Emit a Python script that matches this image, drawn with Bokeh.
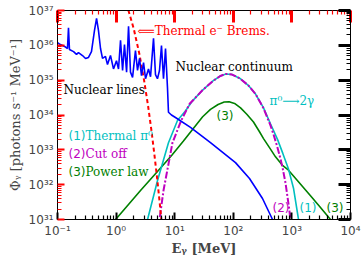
from bokeh.plotting import figure
from bokeh.models import Label, LogAxis, FixedTicker, CustomJSTickFormatter, Range1d
from bokeh.embed import file_html
from bokeh.resources import INLINE

# ---- data ----
nuc_E = [0.100, 0.112, 0.132, 0.148, 0.154, 0.160, 0.188, 0.211, 0.228, 0.267,
         0.301, 0.338, 0.380, 0.428, 0.464, 0.50, 0.542, 0.586, 0.659, 0.713,
         0.802, 0.903, 1.015, 1.10, 1.19, 1.29, 1.39, 1.51, 1.63, 1.76,
         1.91, 2.14, 2.32, 2.51, 2.71, 2.94, 3.18, 3.57, 3.87, 4.35,
         4.70, 5.08, 5.50, 5.95, 6.44, 6.97, 7.54, 7.83, 8.8, 10.3,
         18.6, 40.8, 109, 189, 315, 467]
nuc_phi = [1.2e36, 1.05e36, 9.3e35, 8.1e35, 3.2e36, 7.6e35, 6.6e35, 5.5e35, 6.2e35, 5.1e35,
           4.2e35, 4.5e35, 6.6e35, 2.7e36, 5.9e36, 2.7e36, 8.1e35, 4.2e35, 4.8e35, 2.8e35,
           5.1e35, 2.1e35, 3.6e35, 2.1e35, 1.4e36, 1.9e35, 1.05e36, 1.7e35, 3.5e36, 1.7e35,
           1.2e35, 7.1e35, 1.9e35, 4.2e35, 1.35e35, 3.2e35, 1.1e35, 2.1e35, 1.26e35, 1.6e36,
           1.45e35, 1.1e35, 1.9e35, 9.8e35, 1.1e35, 8.1e35, 5.8e34, 1.2e34, 1.0e34, 8.5e33,
           4.4e33, 1.6e33, 4.3e32, 1.5e32, 4.0e31, 1.0e31]
brems_E = [1.5, 2.0, 2.5, 3.0, 3.5, 4.0, 4.5, 5.0, 5.5, 6.0]
brems_phi = [1.6e37, 3.0e36, 5.6e35, 1.0e35, 1.9e34, 3.7e33, 7.4e32, 1.6e32, 3.5e31, 7.9e30]
therm_E = [3.3, 3.44, 5.08, 7.83, 11.2, 15, 20, 30, 45, 60, 75, 95, 130, 180, 240,
           328, 431, 568, 700, 875, 1065, 1297, 1350]
therm_phi = [5.0e30, 1.0e31, 1.3e32, 1.6e33, 7.1e33, 1.26e34, 2.5e34, 5.2e34, 9.5e34, 1.32e35,
             1.51e35, 1.45e35, 1.12e35, 7.1e34, 4.0e34, 1.6e34, 5.6e33, 2.0e33, 7.9e32,
             2.8e32, 7.9e31, 1.0e31, 5.0e30]
cut_E = [5.3, 5.5, 6.44, 9.16, 13.0, 18, 30, 45, 60, 75, 95, 130, 180, 240, 328, 431,
         485, 560, 638, 700, 778, 875, 946, 970]
cut_phi = [5.0e30, 1.0e31, 6.8e31, 1.6e33, 7.1e33, 2.1e34, 5.2e34, 9.5e34, 1.32e35, 1.51e35,
           1.45e35, 1.12e35, 7.1e34, 4.0e34, 1.55e34, 5.0e33, 2.8e33, 1.26e33, 5.6e32,
           2.8e32, 1.12e32, 2.8e31, 1.0e31, 5.0e30]
pl_E = [0.98, 2.61, 5.08, 9.0, 14.1, 20, 30, 40.8, 55, 70, 85, 105, 133, 170, 221, 280,
        328, 420, 525, 700, 875, 1349, 2077, 3074, 4557]
pl_phi = [1.0e31, 6.8e31, 2.4e32, 7.1e32, 1.8e33, 3.8e33, 8.9e33, 1.45e34, 2.0e34, 2.35e34,
          2.4e34, 2.15e34, 1.6e34, 1.05e34, 6.3e33, 3.3e33, 2.1e33, 1.12e33, 6.3e32,
          3.5e32, 2.6e32, 1.12e32, 4.8e31, 2.2e31, 1.0e31]

x_major = [0.1, 1.0, 10.0, 100.0, 1000.0, 10000.0]
y_major = [10.0 ** k for k in range(31, 38)]

p = figure(width=362, height=258, x_axis_type="log", y_axis_type="log",
           x_range=Range1d(0.1, 1e4), y_range=Range1d(1e31, 1e37),
           output_backend="svg", toolbar_location=None,
           min_border_left=57, min_border_right=12, min_border_top=10, min_border_bottom=39)
p.grid.visible = False
p.outline_line_color = "black"

xminor = [m * d for d in x_major[:-1] for m in range(2, 10)]
yminor = [m * d for d in y_major[:-1] for m in range(2, 10)]

sup_code = """
const sup = {"-":"\u207b","0":"\u2070","1":"\u00b9","2":"\u00b2","3":"\u00b3","4":"\u2074",
             "5":"\u2075","6":"\u2076","7":"\u2077","8":"\u2078","9":"\u2079"};
const e = Math.round(Math.log10(tick));
return "10" + String(e).split("").map(c => sup[c]).join("");
"""

def style(ax, color, tin, w, labels=True):
    ax.major_tick_in = tin
    ax.major_tick_out = 0
    ax.minor_tick_in = 4
    ax.minor_tick_out = 0
    ax.major_tick_line_color = color
    ax.minor_tick_line_color = color
    ax.major_tick_line_width = w
    ax.minor_tick_line_width = 1.2
    ax.major_label_text_font = "DejaVu Sans"
    ax.major_label_text_font_size = "12px"
    ax.major_label_standoff = 4 if labels else 0

xb = p.below[0]
yl = p.left[0]
xb.ticker = FixedTicker(ticks=x_major, minor_ticks=xminor)
yl.ticker = FixedTicker(ticks=y_major, minor_ticks=yminor)
xb.formatter = CustomJSTickFormatter(code=sup_code)
yl.formatter = CustomJSTickFormatter(code=sup_code)
style(xb, "black", 7, 2)
style(yl, "red", 7, 2)

xb.axis_label = "E\u1d67 [MeV]"
xb.axis_label_text_font = "DejaVu Serif"
xb.axis_label_text_font_style = "bold"
xb.axis_label_text_font_size = "13px"
xb.axis_label_standoff = 0
yl.axis_label = "\u03a6\u1d67 [photons s\u207b\u00b9 MeV\u207b\u00b9]"
yl.axis_label_text_font = "DejaVu Serif"
yl.axis_label_text_font_style = "normal"
yl.axis_label_text_font_size = "13px"
yl.axis_label_standoff = 3

xa = LogAxis(ticker=FixedTicker(ticks=x_major, minor_ticks=xminor),
             formatter=CustomJSTickFormatter(code="return '';"))
yr = LogAxis(ticker=FixedTicker(ticks=y_major, minor_ticks=yminor),
             formatter=CustomJSTickFormatter(code="return '';"))
style(xa, "red", 12, 3, False)
style(yr, "black", 12, 3, False)
p.add_layout(xa, "above")
p.add_layout(yr, "right")

p.line(pl_E, pl_phi, line_color="#008000", line_width=1.6)
p.line(therm_E, therm_phi, line_color="#00bfbf", line_width=1.6)
p.line(cut_E, cut_phi, line_color="#bf00bf", line_width=2, line_dash="7 2 2 2")
p.line(brems_E, brems_phi, line_color="#ff0000", line_width=2, line_dash="4 3")
p.line(nuc_E, nuc_phi, line_color="#0000ff", line_width=1.6)

def lab(x, y, text, color, font="DejaVu Serif", size="12px"):
    p.add_layout(Label(x=x, y=y, text=text, text_color=color, text_font=font,
                       text_font_size=size, text_baseline="middle", text_align="left"))

lab(0.127, 10 ** 34.73, "Nuclear lines", "black")
lab(10.3, 10 ** 35.39, "Nuclear continuum", "black")
lab(2.32, 10 ** 36.40, "\u27f8Thermal e\u207b Brems.", "#ff0000")
lab(415, 10 ** 34.41, "\u03c0\u2070\u27f62\u03b3", "#00bfbf")
lab(51.6, 10 ** 33.98, "(3)", "#008000", font="DejaVu Sans")
lab(0.154, 10 ** 33.41, "(1)", "#00bfbf", font="DejaVu Sans")
lab(0.30, 10 ** 33.41, "Thermal \u03c0\u2070", "#00bfbf")
lab(0.154, 10 ** 32.89, "(2)", "#bf00bf", font="DejaVu Sans")
lab(0.30, 10 ** 32.89, "Cut off", "#bf00bf")
lab(0.154, 10 ** 32.37, "(3)", "#008000", font="DejaVu Sans")
lab(0.30, 10 ** 32.37, "Power law", "#008000")
lab(467, 10 ** 31.34, "(2)", "#bf00bf", font="DejaVu Sans")
lab(1349, 10 ** 31.34, "(1)", "#00bfbf", font="DejaVu Sans")
lab(3890, 10 ** 31.34, "(3)", "#008000", font="DejaVu Sans")

open("out.html", "w").write(file_html(p, INLINE))
